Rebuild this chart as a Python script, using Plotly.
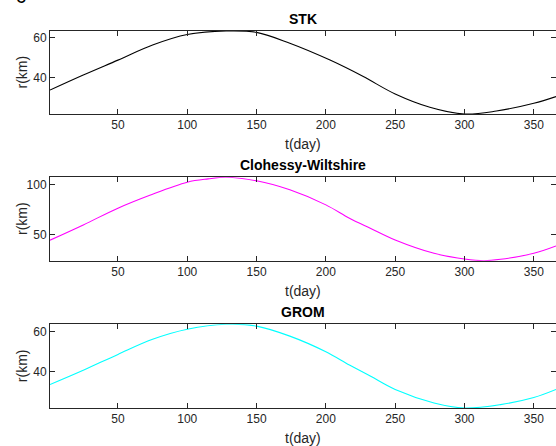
import plotly.graph_objects as go

# ---- data ----
days_stk = [1, 25, 50, 75, 100, 128, 150, 174, 203, 227, 250, 275, 300, 323, 350, 366]
r_stk = [33.6, 41.2, 48.7, 56.3, 61.6, 63.4, 62.7, 57.2, 48.7, 40.4, 31.6, 24.9, 21.5, 23.0, 26.9, 30.3]

days_cw = [1, 25, 50, 73, 100, 115, 128, 150, 174, 200, 217, 232, 250, 278, 300, 314, 326, 350, 366]
r_cw = [44.5, 59.7, 76.4, 89.3, 102.3, 105.6, 107.2, 103.7, 94.7, 79.7, 66.4, 56.4, 44.7, 31.4, 25.7, 24.0, 25.4, 31.4, 38.7]

days_grom = [1, 25, 50, 75, 100, 128, 150, 174, 200, 217, 232, 250, 278, 300, 326, 350, 366]
r_grom = [33.5, 40.6, 48.5, 56.0, 61.0, 63.5, 62.6, 57.6, 49.8, 43.2, 37.7, 31.0, 24.3, 21.8, 23.5, 27.0, 31.0]

titles = ["STK", "Clohessy-Wiltshire", "GROM"]
colors = ["#000000", "#FF00FF", "#00FFFF"]
x_ticks = [50, 100, 150, 200, 250, 300, 350]
y_ticks = [[40, 60], [50, 100], [40, 60]]
x_label = "t(day)"
y_label = "r(km)"

series = [(days_stk, r_stk), (days_cw, r_cw), (days_grom, r_grom)]

W, H = 556, 446
L = 50
PW = W - L
# pixel extents of each axes box (top, bottom)
boxes = [(31, 114), (177.3, 260.7), (324.3, 408)]

fig = go.Figure()
axc = "#262626"
font_fam = "Liberation Sans, Arial, sans-serif"

for i, ((d, r), col) in enumerate(zip(series, colors)):
    n = "" if i == 0 else str(i + 1)
    fig.add_trace(go.Scatter(x=d, y=r, mode="lines", line=dict(color=col, width=1.1, shape="spline", smoothing=1.0),
                             xaxis="x" + n, yaxis="y" + n, showlegend=False, hoverinfo="skip"))
    top, bot = boxes[i]
    dom = [1 - bot / H, 1 - top / H]
    xa = dict(domain=[0, 1], range=[1, 366], tickvals=x_ticks, ticks="inside", ticklen=5, tickcolor=axc,
              showline=True, linecolor=axc, linewidth=1, mirror="allticks", showgrid=False, zeroline=False,
              tickfont=dict(size=12, color=axc, family=font_fam), anchor="y" + n, automargin=False)
    ya = dict(domain=dom, range=[min(r), max(r)], tickvals=y_ticks[i], ticks="inside", ticklen=5, tickcolor=axc,
              showline=True, linecolor=axc, linewidth=1, mirror="allticks", showgrid=False, zeroline=False,
              tickfont=dict(size=12, color=axc, family=font_fam), anchor="x" + n, automargin=False)
    fig.update_layout(**{"xaxis" + n: xa, "yaxis" + n: ya})
    # subplot title
    fig.add_annotation(text="<b>" + titles[i] + "</b>", xref="paper", yref="paper", x=0.5, y=1 - (top - 12) / H,
                       xanchor="center", yanchor="middle", showarrow=False,
                       font=dict(size=14, color="#000000", family=font_fam))
    # x axis label
    fig.add_annotation(text=x_label, xref="paper", yref="paper", x=0.5, y=1 - (bot + 30) / H,
                       xanchor="center", yanchor="middle", showarrow=False,
                       font=dict(size=14, color=axc, family=font_fam))
    # y axis label
    fig.add_annotation(text=y_label, xref="paper", yref="paper", x=(22 - L) / PW, y=1 - (top + bot) / 2 / H,
                       xanchor="center", yanchor="middle", showarrow=False, textangle=-90,
                       font=dict(size=14, color=axc, family=font_fam))

# partially visible panel letter at the top-left corner
fig.add_annotation(text="c", xref="paper", yref="paper", x=(21 - L) / PW, y=1 + 4 / H, xanchor="center",
                   yanchor="middle", showarrow=False, font=dict(size=20, color="#000000", family=font_fam))

fig.update_layout(width=W, height=H, margin=dict(l=L, r=0, t=0, b=0, autoexpand=False), paper_bgcolor="white",
                  plot_bgcolor="white", showlegend=False)
fig.write_html("out.html", config={"displayModeBar": False},
               post_script="document.body.style.margin='0';document.body.style.padding='0';")
